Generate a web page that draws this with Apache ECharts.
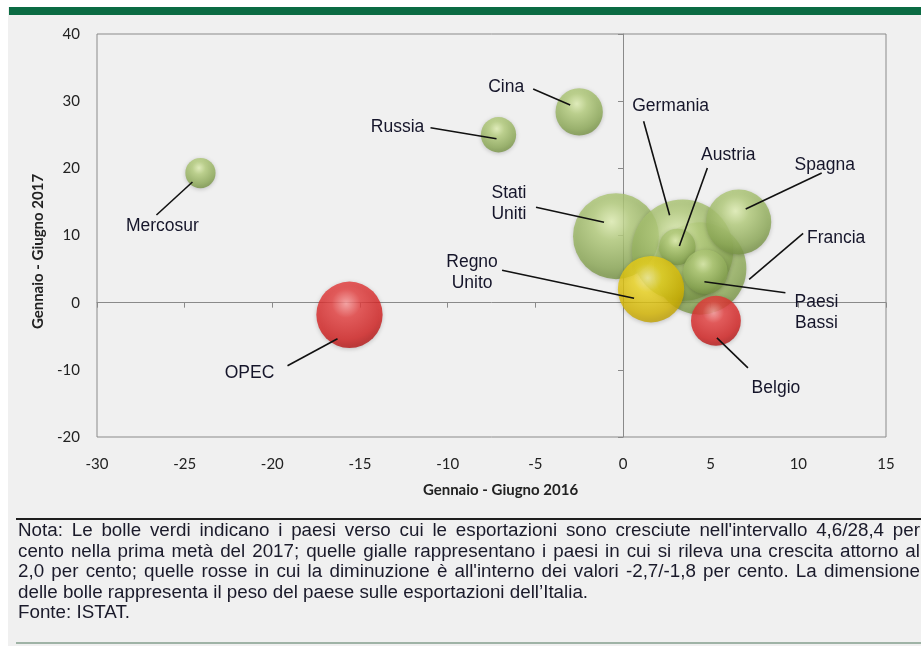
<!DOCTYPE html>
<html>
<head>
<meta charset="utf-8">
<script src="https://cdn.jsdelivr.net/npm/echarts@6/dist/echarts.min.js"></script>
<style>
  html, body { margin: 0; padding: 0; background: #ffffff; overflow: hidden; }
  #panel { position: absolute; left: 8px; top: 7px; width: 913px; height: 639px; background: #f0f0f0; }
  #bar { position: absolute; left: 9px; top: 7px; width: 912px; height: 8px; background: #0b6b43; }
  #main { position: absolute; left: 0; top: 0; width: 921px; height: 646px; }
  #sep { position: absolute; left: 16px; top: 518px; width: 905px; height: 2px; background: #1e1e1e; }
  #bottom { position: absolute; left: 16px; top: 642px; width: 905px; height: 2px; background: #9fb3a6; }
  #nota { position: absolute; left: 18px; top: 520px; width: 902px; font-family: "Liberation Sans Narrow", "Liberation Sans", sans-serif; font-size: 18.8px; line-height: 20.5px; color: #1a1a2a; white-space: nowrap; }
  #nota .j { text-align: justify; text-align-last: justify; }
</style>
</head>
<body>
<div id="panel"></div>
<div id="bar"></div>
<div id="main"></div>
<div id="sep"></div>
<div id="nota">
  <div class="j">Nota: Le bolle verdi indicano i paesi verso cui le esportazioni sono cresciute nell'intervallo 4,6/28,4 per</div>
  <div class="j">cento nella prima metà del 2017; quelle gialle rappresentano i paesi in cui si rileva una crescita attorno al</div>
  <div class="j">2,0 per cento; quelle rosse in cui la diminuzione è all'interno dei valori -2,7/-1,8 per cento. La dimensione</div>
  <div>delle bolle rappresenta il peso del paese sulle esportazioni dell’Italia.</div>
  <div>Fonte: ISTAT.</div>
</div>
<div id="bottom"></div>
<script>
// dati
var paesi = ["Mercosur", "Russia", "Cina", "OPEC", "Stati Uniti", "Francia", "Germania", "Spagna", "Austria", "Regno Unito", "Paesi Bassi", "Belgio"];
var var2016 = [-24.1, -7.1, -2.5, -15.6, -0.4, 4.4, 3.4, 6.6, 3.1, 1.6, 4.7, 5.3];
var var2017 = [19.3, 25.0, 28.4, -1.8, 9.9, 5.1, 7.8, 12.0, 8.3, 2.0, 4.6, -2.7];
var peso = [1.1, 1.5, 2.7, 5.3, 8.9, 10.3, 12.4, 5.1, 1.6, 5.3, 2.4, 3.0];
var gruppo = ["verde", "verde", "verde", "rosso", "verde", "verde", "verde", "verde", "verde", "giallo", "verde", "rosso"];
var xTicks = { min: -30, max: 15, step: 5 };
var yTicks = { min: -20, max: 40, step: 10 };

// etichette: testo, inizio e fine della linea, in px rispetto al centro della bolla
var etichette = {
  "Mercosur":    { t: [-38, 53],   a: [-44, 42],   b: [-8, 9] },
  "Russia":      { t: [-101, -8],  a: [-68, -7],   b: [-2, 4] },
  "Cina":        { t: [-73, -25],  a: [-46, -23],  b: [-9, -7] },
  "OPEC":        { t: [-100, 58],  a: [-62, 51],   b: [-12, 24] },
  "Stati Uniti": { t: [-107, -32], a: [-80, -29],  b: [-12, -14] },
  "Francia":     { t: [136, -30],  a: [103, -35],  b: [49, 11] },
  "Germania":    { t: [-12, -144], a: [-39, -129], b: [-13, -35] },
  "Spagna":      { t: [86, -57],   a: [83, -49],   b: [7, -13] },
  "Austria":     { t: [51, -92],   a: [30, -79],   b: [2, -1] },
  "Regno Unito": { t: [-179, -17], a: [-149, -19], b: [-17, 9] },
  "Paesi Bassi": { t: [111, 41],   a: [80, 21],    b: [-1, 10] },
  "Belgio":      { t: [60, 67],    a: [32, 47],    b: [1, 17] }
};
var dueRighe = { "Stati Uniti": "Stati\nUniti", "Regno Unito": "Regno\nUnito", "Paesi Bassi": "Paesi\nBassi" };

var colori = {
  verde: ["#e6f5b8", "#b8d17f", "#8fac58", "#6f8a3f"],
  giallo: ["#fff59a", "#f0d820", "#d8b800", "#b89800"],
  rosso: ["#ff9a9a", "#e84040", "#d42020", "#a81010"]
};

function sfumatura(g) {
  var c = colori[g];
  return new echarts.graphic.RadialGradient(0.45, 0.33, 0.72, [
    { offset: 0, color: c[0] },
    { offset: 0.3, color: c[1] },
    { offset: 0.75, color: c[2] },
    { offset: 1, color: c[3] }
  ]);
}

var dati = paesi.map(function (p, i) {
  return {
    name: p,
    value: [var2016[i], var2017[i], peso[i]],
    itemStyle: { color: sfumatura(gruppo[i]) }
  };
});
var puntiEtichette = paesi.map(function (p, i) {
  return { name: p, value: [var2016[i], var2017[i]] };
});

var fontTick = "Lato, 'Open Sans', sans-serif";
var fontEt = "17.5px 'Liberation Sans', Arial, sans-serif";

var myChart = echarts.init(document.getElementById("main"), null, { renderer: "canvas" });
var option = {
  animation: false,
  backgroundColor: "transparent",
  grid: {
    left: 97, top: 34, width: 789, height: 403,
    show: true, borderColor: "#8a8a8a", borderWidth: 1, backgroundColor: "transparent"
  },
  xAxis: [
    {
      type: "value", min: xTicks.min, max: xTicks.max, interval: xTicks.step,
      position: "bottom",
      axisLine: { show: false, onZero: false },
      axisTick: { show: false },
      splitLine: { show: false },
      axisLabel: { margin: 20, color: "#222", fontSize: 15, fontFamily: fontTick },
      name: "Gennaio - Giugno 2016",
      nameLocation: "middle",
      nameGap: 46,
      nameTextStyle: { color: "#222", fontSize: 15, fontWeight: "bold", fontFamily: fontTick, padding: [0, 0, 0, 18] }
    },
    {
      type: "value", min: xTicks.min, max: xTicks.max, interval: xTicks.step,
      position: "bottom",
      axisLine: { show: true, onZero: true, onZeroAxisIndex: 0, lineStyle: { color: "#8a8a8a", width: 1 } },
      axisTick: { show: true, length: 5, lineStyle: { color: "#8a8a8a" } },
      axisLabel: { show: false },
      splitLine: { show: false }
    }
  ],
  yAxis: [
    {
      type: "value", min: yTicks.min, max: yTicks.max, interval: yTicks.step,
      position: "left",
      axisLine: { show: false, onZero: false },
      axisTick: { show: false },
      splitLine: { show: false },
      axisLabel: { margin: 17, color: "#222", fontSize: 15, fontFamily: fontTick },
      name: "Gennaio - Giugno 2017",
      nameLocation: "middle",
      nameGap: 38,
      nameTextStyle: { color: "#222", fontSize: 15, fontWeight: "bold", fontFamily: fontTick, padding: [12, 32, 0, 0] }
    },
    {
      type: "value", min: yTicks.min, max: yTicks.max, interval: yTicks.step,
      position: "left",
      axisLine: { show: true, onZero: true, onZeroAxisIndex: 0, lineStyle: { color: "#8a8a8a", width: 1 } },
      axisTick: { show: true, length: 5, lineStyle: { color: "#8a8a8a" } },
      axisLabel: { show: false },
      splitLine: { show: false }
    }
  ],
  series: [
    {
      type: "scatter",
      xAxisIndex: 0,
      yAxisIndex: 0,
      data: dati,
      symbolSize: function (v) {
        return 2 * 14.4 * Math.sqrt(v[2]);
      },
      itemStyle: { opacity: 0.8, shadowBlur: 4, shadowColor: "rgba(0,0,0,0.25)", shadowOffsetY: 1 },
      emphasis: { disabled: true },
      z: 2
    },
    {
      // etichette con linee di richiamo
      type: "custom",
      xAxisIndex: 0,
      yAxisIndex: 0,
      data: puntiEtichette,
      z: 3,
      renderItem: function (params, api) {
        var c = api.coord([api.value(0), api.value(1)]);
        var nome = paesi[params.dataIndex];
        var e = etichette[nome];
        return {
          type: "group",
          children: [
            {
              type: "line",
              shape: { x1: c[0] + e.a[0], y1: c[1] + e.a[1], x2: c[0] + e.b[0], y2: c[1] + e.b[1] },
              style: { stroke: "#111", lineWidth: 1.6 }
            },
            {
              type: "text",
              style: {
                text: dueRighe[nome] || nome,
                x: c[0] + e.t[0], y: c[1] + e.t[1],
                align: "center", verticalAlign: "middle",
                font: fontEt, lineHeight: 21, fill: "#15152a"
              }
            }
          ]
        };
      }
    }
  ]
};
myChart.setOption(option, true);
</script>
</body>
</html>
